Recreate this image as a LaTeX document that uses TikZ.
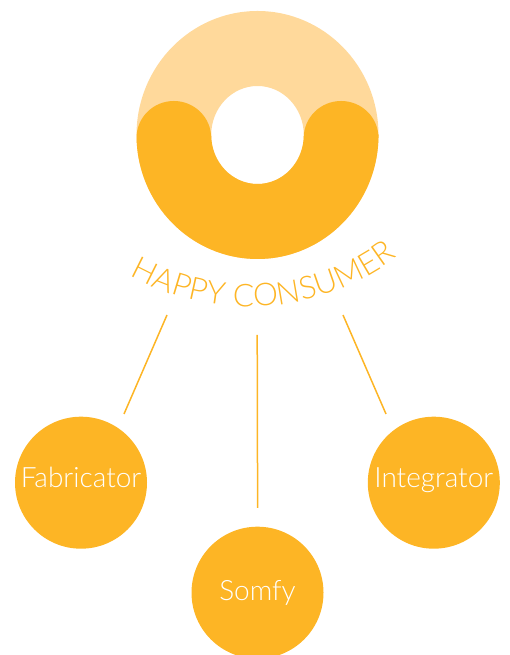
\documentclass[tikz,border=0pt]{standalone}
\usepackage{fontspec}
\usetikzlibrary{decorations.text}
\newfontfamily\thinfont{Lato Light}
\definecolor{donutdark}{HTML}{FDB525}
\definecolor{donutlight}{HTML}{FFD99B}
\tikzset{
  member/.style={circle,fill=donutdark,minimum size=132pt,inner sep=0pt},
  memberlabel/.style={anchor=base,text=white,font=\thinfont\fontsize{28}{28}\selectfont,inner sep=0pt},
  link/.style={draw=donutdark,line width=1.5pt},
}
\begin{document}
\begin{tikzpicture}[x=1pt,y=1pt]
\useasboundingbox (0,0) rectangle (510,655);
\clip (0,0) rectangle (510,655);
% donut
\fill[donutlight,even odd rule] (257.5,520) ellipse [x radius=121,y radius=124]
  (257.5,520) ellipse [x radius=46.3,y radius=49];
\fill[donutdark] (136.5,517) -- (136.5,520)
  arc[start angle=180,end angle=360,x radius=121,y radius=124]
  -- (378.5,517)
  arc[start angle=0,end angle=180,x radius=37.4,y radius=37]
  -- (303.8,520)
  arc[start angle=360,end angle=180,x radius=46.3,y radius=49]
  -- (211.2,517)
  arc[start angle=0,end angle=180,x radius=37.35,y radius=37]
  -- cycle;
% curved title
\path[decorate,decoration={text along path,
   text={|\thinfont\fontsize{31.5}{31.5}\selectfont\color{donutdark}|HAPPY CONSUMER},
   text align=center}]
  (131,379) arc[start angle=241,end angle=307,radius=244];
% members
\node[member] (fab) at (81,172.3) {};
\node[member] (som) at (257.5,62.3) {};
\node[member] (int) at (433.8,172.3) {};
\node[memberlabel] (fabt) at (81,167) {Fabricator};
\node[memberlabel] (somt) at (257.5,54.5) {Somfy};
\node[memberlabel] (intt) at (433.8,167) {Integrator};
% connectors
\coordinate (a1) at (167,340);
\coordinate (a2) at (124,241);
\coordinate (b1) at (257.2,320);
\coordinate (b2) at (257.6,147);
\coordinate (c1) at (343,340);
\coordinate (c2) at (386,241);
\draw[link] (a1) -- (a2);
\draw[link] (b1) -- (b2);
\draw[link] (c1) -- (c2);
\end{tikzpicture}
\end{document}
